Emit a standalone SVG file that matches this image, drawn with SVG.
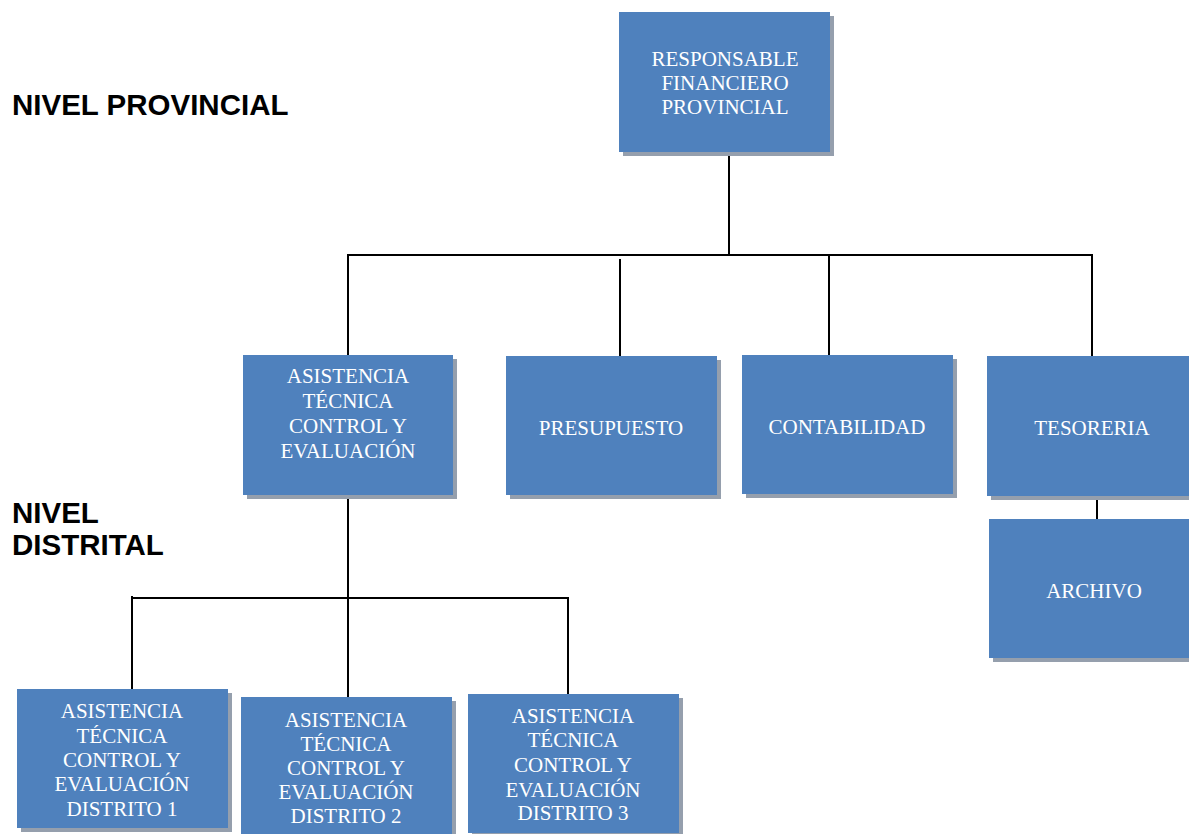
<svg xmlns="http://www.w3.org/2000/svg" width="1189" height="834" viewBox="0 0 1189 834">
<style>
.sh{fill:#959FAD}
.bx{fill:#4F81BD}
.t{font-family:"Liberation Serif","Times New Roman",serif;font-size:21px;fill:#FFFFFF;text-anchor:middle}
.h{font-family:"Liberation Sans",Arial,sans-serif;font-size:29.5px;font-weight:bold;fill:#000000}
.c{stroke:#000000;stroke-width:2;fill:none}
</style>
<rect width="1189" height="834" fill="#FFFFFF"/>
<g id="labels">
<text class="h" x="12" y="115">NIVEL PROVINCIAL</text>
<text class="h" x="12" y="523">NIVEL</text>
<text class="h" x="12" y="555">DISTRITAL</text>
</g>
<g id="connectors">
<path class="c" d="M729 152V256"/>
<path class="c" d="M347 255H1093"/>
<path class="c" d="M348 255V355"/>
<path class="c" d="M620 259V357"/>
<path class="c" d="M829 255V355"/>
<path class="c" d="M1092 255V357"/>
<path class="c" d="M348 495V598"/>
<path class="c" d="M131 598H569"/>
<path class="c" d="M132 596V689"/>
<path class="c" d="M348 598V697"/>
<path class="c" d="M568 598V694"/>
<path class="c" d="M1097 496V519"/>
</g>
<g id="responsable">
<rect class="sh" x="623" y="16" width="211" height="140"/>
<rect class="bx" x="619" y="12" width="211" height="140"/>
<text class="t" x="725" y="66">RESPONSABLE</text>
<text class="t" x="725" y="90">FINANCIERO</text>
<text class="t" x="725" y="114">PROVINCIAL</text>
</g>
<g id="asistencia">
<rect class="sh" x="247" y="359" width="210" height="140"/>
<rect class="bx" x="243" y="355" width="210" height="140"/>
<text class="t" x="348" y="383">ASISTENCIA</text>
<text class="t" x="348" y="408">TÉCNICA</text>
<text class="t" x="348" y="433">CONTROL Y</text>
<text class="t" x="348" y="458">EVALUACIÓN</text>
</g>
<g id="presupuesto">
<rect class="sh" x="510" y="360" width="211" height="139"/>
<rect class="bx" x="506" y="356" width="211" height="139"/>
<text class="t" x="611" y="435">PRESUPUESTO</text>
</g>
<g id="contabilidad">
<rect class="sh" x="746" y="359" width="211" height="139"/>
<rect class="bx" x="742" y="355" width="211" height="139"/>
<text class="t" x="847" y="434">CONTABILIDAD</text>
</g>
<g id="tesoreria">
<rect class="sh" x="991" y="360" width="210" height="140"/>
<rect class="bx" x="987" y="356" width="210" height="140"/>
<text class="t" x="1092" y="435">TESORERIA</text>
</g>
<g id="archivo">
<rect class="sh" x="993" y="523" width="210" height="139"/>
<rect class="bx" x="989" y="519" width="210" height="139"/>
<text class="t" x="1094" y="598">ARCHIVO</text>
</g>
<g id="distrito1">
<rect class="sh" x="21" y="693" width="211" height="139"/>
<rect class="bx" x="17" y="689" width="211" height="139"/>
<text class="t" x="122" y="718">ASISTENCIA</text>
<text class="t" x="122" y="743">TÉCNICA</text>
<text class="t" x="122" y="767">CONTROL Y</text>
<text class="t" x="122" y="791">EVALUACIÓN</text>
<text class="t" x="122" y="816">DISTRITO 1</text>
</g>
<g id="distrito2">
<rect class="sh" x="245" y="701" width="211" height="139"/>
<rect class="bx" x="241" y="697" width="211" height="139"/>
<text class="t" x="346" y="727">ASISTENCIA</text>
<text class="t" x="346" y="751">TÉCNICA</text>
<text class="t" x="346" y="775">CONTROL Y</text>
<text class="t" x="346" y="799">EVALUACIÓN</text>
<text class="t" x="346" y="823">DISTRITO 2</text>
</g>
<g id="distrito3">
<rect class="sh" x="472" y="698" width="211" height="139"/>
<rect class="bx" x="468" y="694" width="211" height="139"/>
<text class="t" x="573" y="723">ASISTENCIA</text>
<text class="t" x="573" y="747">TÉCNICA</text>
<text class="t" x="573" y="772">CONTROL Y</text>
<text class="t" x="573" y="797">EVALUACIÓN</text>
<text class="t" x="573" y="820">DISTRITO 3</text>
</g>
</svg>
